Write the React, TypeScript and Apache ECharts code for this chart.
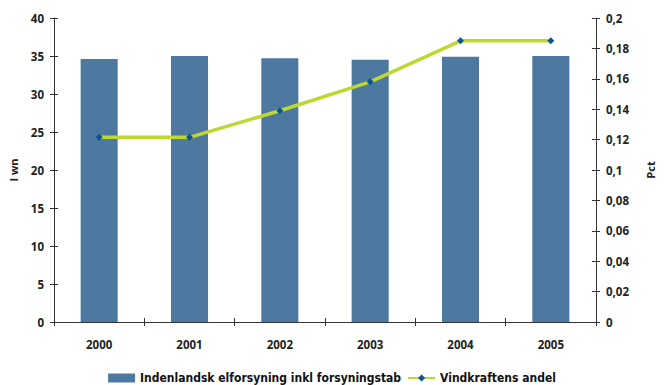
import React, { useEffect, useRef } from "react";
import * as echarts from "echarts";

const categories = ["2000", "2001", "2002", "2003", "2004", "2005"];
const supplyValues = [34.6, 35.0, 34.7, 34.5, 34.9, 35.0];
const windShare = [0.1215, 0.1215, 0.139, 0.158, 0.185, 0.185];
const leftTicks = [0, 5, 10, 15, 20, 25, 30, 35, 40];
const rightTicks = [0, 0.02, 0.04, 0.06, 0.08, 0.1, 0.12, 0.14, 0.16, 0.18, 0.2];
const barName = "Indenlandsk elforsyning inkl forsyningstab";
const lineName = "Vindkraftens andel";
const leftAxisName = "I wn";
const rightAxisName = "Pct";

const labelFont = {
  fontFamily: "'Open Sans', 'DejaVu Sans', sans-serif",
  fontWeight: "bold" as const,
  fontSize: 11.5,
  color: "#222",
};

export default function App() {
  const ref = useRef<HTMLDivElement>(null);
  useEffect(() => {
    if (!ref.current) return;
    const chart = echarts.init(ref.current, undefined, { renderer: "svg" });
    const axisLine = { show: true, lineStyle: { color: "#333", width: 1 } };
    const yMeta = (min: number, max: number, interval: number) => ({
      type: "value" as const,
      min,
      max,
      interval,
    });
    chart.setOption({
      animation: false,
      grid: { left: 53, right: 56, top: 18, bottom: 63 },
      legend: {
        top: 372,
        left: "center",
        padding: 0,
        itemGap: 6,
        itemWidth: 27,
        itemHeight: 9,
        textStyle: {
          fontFamily: "'Liberation Sans Narrow', 'DejaVu Sans Condensed', sans-serif",
          fontWeight: "bold",
          fontSize: 12,
          color: "#111",
        },
        data: [
          { name: barName, icon: "rect" },
          { name: lineName },
        ],
      },
      xAxis: [
        {
          type: "category",
          data: categories,
          boundaryGap: true,
          axisLine,
          axisTick: { show: true, length: 4, lineStyle: { color: "#333" } },
          axisLabel: { ...labelFont, margin: 16 },
          splitLine: { show: false },
        },
        {
          type: "category",
          data: categories,
          position: "bottom",
          boundaryGap: true,
          axisLine: { show: false },
          axisTick: { show: true, inside: true, length: 4, lineStyle: { color: "#333" } },
          axisLabel: { show: false },
          splitLine: { show: false },
        },
      ],
      yAxis: [
        {
          ...yMeta(leftTicks[0], leftTicks[leftTicks.length - 1], leftTicks[1] - leftTicks[0]),
          position: "left",
          axisLine,
          axisTick: { show: true, length: 4, lineStyle: { color: "#333" } },
          axisLabel: { ...labelFont, margin: 10 },
          splitLine: { show: false },
          name: leftAxisName,
          nameLocation: "middle",
          nameRotate: 90,
          nameGap: 35,
          nameTextStyle: { ...labelFont, fontSize: 11 },
        },
        {
          ...yMeta(rightTicks[0], rightTicks[rightTicks.length - 1], rightTicks[1] - rightTicks[0]),
          position: "right",
          axisLine,
          axisTick: { show: true, length: 4, lineStyle: { color: "#333" } },
          axisLabel: {
            ...labelFont,
            margin: 10,
            formatter: (v: number) => String(+v.toFixed(2)).replace(".", ","),
          },
          splitLine: { show: false },
          name: rightAxisName,
          nameLocation: "middle",
          nameRotate: 90,
          nameGap: 49,
          nameTextStyle: { ...labelFont, fontSize: 11 },
        },
        {
          ...yMeta(leftTicks[0], leftTicks[leftTicks.length - 1], leftTicks[1] - leftTicks[0]),
          position: "left",
          axisLine: { show: false },
          axisTick: { show: true, inside: true, length: 4, lineStyle: { color: "#333" } },
          axisLabel: { show: false },
          splitLine: { show: false },
        },
        {
          ...yMeta(rightTicks[0], rightTicks[rightTicks.length - 1], rightTicks[1] - rightTicks[0]),
          position: "right",
          axisLine: { show: false },
          axisTick: { show: true, inside: true, length: 4, lineStyle: { color: "#333" } },
          axisLabel: { show: false },
          splitLine: { show: false },
        },
      ],
      series: [
        {
          name: barName,
          type: "bar",
          data: supplyValues,
          yAxisIndex: 0,
          barWidth: "41%",
          itemStyle: { color: "#4d789f" },
        },
        {
          name: lineName,
          type: "line",
          data: windShare,
          yAxisIndex: 1,
          symbol: "diamond",
          symbolSize: 7,
          lineStyle: { color: "#bfd731", width: 3.5 },
          itemStyle: { color: "#0b5591", borderWidth: 0 },
        },
      ],
    });
    return () => chart.dispose();
  }, []);
  return (
    <div
      ref={ref}
      style={{ position: "absolute", left: 0, top: 0, width: 664, height: 385 }}
    />
  );
}
